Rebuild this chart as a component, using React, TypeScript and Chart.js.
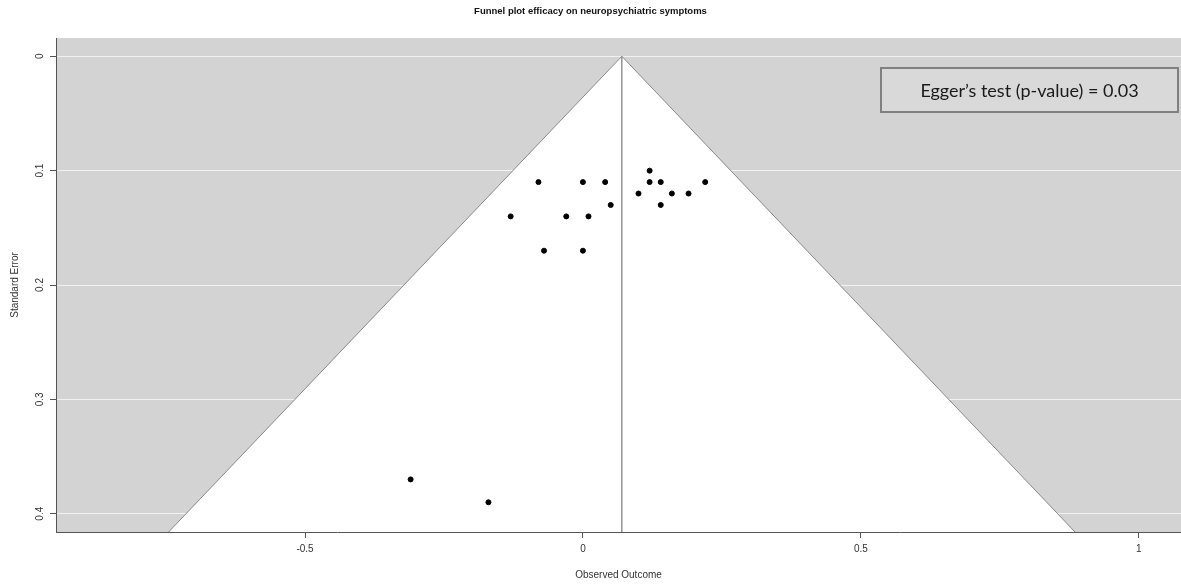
import React, { useEffect, useRef } from "react";
import { Chart, registerables } from "chart.js";

Chart.register(...registerables);

const chartTitle = "Funnel plot efficacy on neuropsychiatric symptoms";
const xAxisTitle = "Observed Outcome";
const yAxisTitle = "Standard Error";
const eggerText = "Egger\u2019s test (p-value) = 0.03";

const observedOutcome = [
  0.12, -0.08, 0.0, 0.04, 0.12, 0.14, 0.22, 0.1, 0.16, 0.19,
  0.05, 0.14, -0.13, -0.03, 0.01, -0.07, 0.0, -0.31, -0.17,
];
const standardError = [
  0.1, 0.11, 0.11, 0.11, 0.11, 0.11, 0.11, 0.12, 0.12, 0.12,
  0.13, 0.13, 0.14, 0.14, 0.14, 0.17, 0.17, 0.37, 0.39,
];
const pooledEstimate = 0.07;
const xLimits = [-0.948, 1.076];
const yLimits = [-0.016, 0.416];
const xTickStep = 0.5;
const yTickStep = 0.1;

const FONT = "'Liberation Sans', Arial, sans-serif";

export default function App() {
  const ref = useRef<HTMLCanvasElement | null>(null);

  useEffect(() => {
    document.body.style.margin = "0";
    const canvas = ref.current;
    if (!canvas) return;

    const funnelLine = [
      { x: xLimits[0], y: (pooledEstimate - xLimits[0]) / 1.96 },
      { x: pooledEstimate, y: 0 },
      { x: xLimits[1], y: (xLimits[1] - pooledEstimate) / 1.96 },
    ];
    const refLine = [
      { x: pooledEstimate, y: 0 },
      { x: pooledEstimate, y: yLimits[1] },
    ];
    const points = observedOutcome.map((x, i) => ({ x, y: standardError[i] }));

    const bgPlugin = {
      id: "bg",
      beforeDraw(chart: any) {
        const { ctx, chartArea: a } = chart;
        ctx.save();
        ctx.fillStyle = "#d3d3d3";
        ctx.fillRect(a.left, a.top, a.right - a.left, a.bottom - a.top);
        ctx.restore();
      },
    };

    const textPlugin = {
      id: "texts",
      afterDraw(chart: any) {
        const { ctx, chartArea: a } = chart;
        const ys = chart.scales.y;
        ctx.save();
        ctx.fillStyle = "#111";
        ctx.font = `bold 9.5px ${FONT}`;
        ctx.textAlign = "center";
        ctx.textBaseline = "middle";
        ctx.fillText(chartTitle, chart.width / 2, 11);
        ctx.fillStyle = "#333";
        ctx.font = `10px ${FONT}`;
        ctx.fillText(xAxisTitle, (a.left + a.right) / 2, 575);
        ys.ticks.forEach((t: any) => {
          const py = ys.getPixelForValue(t.value);
          ctx.save();
          ctx.translate(40, py);
          ctx.rotate(-Math.PI / 2);
          ctx.fillText(String(Math.round(t.value * 10) / 10), 0, 0);
          ctx.restore();
        });
        ctx.save();
        ctx.translate(15, (a.top + a.bottom) / 2);
        ctx.rotate(-Math.PI / 2);
        ctx.fillText(yAxisTitle, 0, 0);
        ctx.restore();
        const bx = a.right - 300, by = 68, bw = 297, bh = 44;
        ctx.fillStyle = "#d9d9d9";
        ctx.fillRect(bx, by, bw, bh);
        ctx.strokeStyle = "#808080";
        ctx.lineWidth = 2;
        ctx.strokeRect(bx, by, bw, bh);
        ctx.fillStyle = "#1a1a1a";
        ctx.font = `18px Lato, 'Open Sans', sans-serif`;
        ctx.fillText(eggerText, bx + bw / 2, by + bh / 2 + 1);
        ctx.restore();
      },
    };

    const chart = new Chart(canvas, {
      type: "scatter",
      data: {
        datasets: [
          {
            label: "studies",
            data: points,
            backgroundColor: "#000",
            borderColor: "#000",
            pointRadius: 2.5,
            pointHoverRadius: 2.5,
            order: 0,
          } as any,
          {
            label: "estimate",
            type: "line",
            data: refLine,
            borderColor: "#7a7a7a",
            borderWidth: 1.2,
            pointRadius: 0,
            fill: false,
            order: 1,
          } as any,
          {
            label: "funnel",
            type: "line",
            data: funnelLine,
            borderColor: "#8a8a8a",
            borderWidth: 1,
            pointRadius: 0,
            backgroundColor: "#ffffff",
            fill: { value: yLimits[1] },
            order: 2,
          } as any,
        ],
      },
      options: {
        animation: false,
        responsive: false,
        maintainAspectRatio: false,
        layout: { autoPadding: false, padding: { top: 38, left: 0, right: 0, bottom: 0 } },
        plugins: {
          legend: { display: false },
          title: { display: false },
          tooltip: { enabled: false },
        },
        scales: {
          x: {
            type: "linear",
            min: xLimits[0],
            max: xLimits[1],
            afterFit(s: any) {
              s.height = 53;
            },
            border: { display: true, color: "#555", width: 1 },
            grid: {
              drawOnChartArea: false,
              drawTicks: true,
              tickLength: 6,
              tickColor: "#555",
            },
            ticks: {
              stepSize: xTickStep,
              includeBounds: false,
              color: "#333",
              padding: 5,
              font: { family: FONT, size: 10 },
              callback: (v: any) => String(Math.round(Number(v) * 10) / 10),
            },
          },
          y: {
            type: "linear",
            reverse: true,
            min: yLimits[0],
            max: yLimits[1],
            afterFit(s: any) {
              s.width = 56;
            },
            border: { display: true, color: "#555", width: 1 },
            grid: {
              color: "#f2f2f2",
              lineWidth: 1,
              drawTicks: true,
              tickLength: 6,
              tickColor: "#555",
            },
            ticks: {
              stepSize: yTickStep,
              includeBounds: false,
              display: false,
            },
          },
        },
      },
      plugins: [bgPlugin, textPlugin],
    } as any);

    return () => chart.destroy();
  }, []);

  return (
    <div style={{ width: 1181, height: 585 }}>
      <canvas ref={ref} width={1181} height={585} style={{ display: "block" }} />
    </div>
  );
}
